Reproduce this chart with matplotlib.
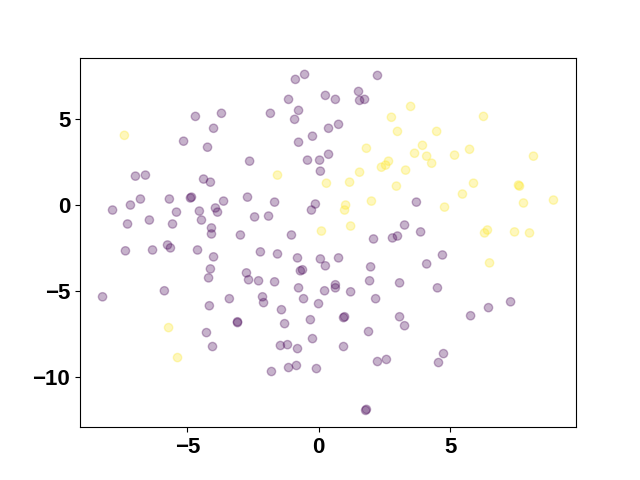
import numpy as np
import matplotlib
matplotlib.use("Agg")
import matplotlib.pyplot as plt

# class 0 (purple) embedding coordinates
x0 = [-8.22, -7.84, -7.35, -7.27, -7.16, -6.97, -6.78, -6.59, -6.44, -6.32,
      -5.87, -5.75, -5.64, -5.68, -5.56, -5.41, -5.14, -4.84, -4.88, -4.69,
      -4.61, -4.54, -4.46, -4.38, -4.23, -4.27, -4.19, -4.12, -4.12, -4.08,
      -4.08, -4.00, -4.04, -4.16, -4.00, -3.93, -3.85, -3.70, -3.62, -3.40,
      -3.09, -3.09, -2.98, -2.75, -2.67, -2.63, -2.71, -2.44, -2.22, -2.14,
      -2.10, -2.29, -1.68, -1.57, -1.91, -1.68, -1.84, -1.42, -1.30, -1.46,
      -1.19, -1.80, -1.15, -0.85, -0.81, -0.81, -0.77, -0.62, -0.70, -0.58,
      -0.32, -0.24, -0.09, -0.01, 0.06, 0.25, 0.22, 0.75, 0.63, 0.63,
      1.21, 0.98, 0.94, 0.94, 1.81, 1.78, 1.89, 1.93, 1.97, 2.16,
      2.23, 2.57, 3.07, 3.07, 3.26, 4.10, 4.70, 4.51, 5.77, 6.45,
      7.29, 4.74, 4.55, 2.08, 2.80, 2.99, 3.26, 3.71, 3.87, -1.04,
      -0.13, -0.28, -0.43, 0.03, 0.37, 0.06, -0.77, -0.24, 0.37, 0.75,
      -0.92, -0.77, -1.15, 0.25, 0.63, 1.51, 1.55, 1.74, -0.54, -0.89,
      2.23]
y0 = [-5.33, -0.29, -2.66, -1.10, 0.00, 1.68, 0.35, 1.74, -0.87, -2.61,
      -4.98, -2.32, -2.49, 0.35, -1.10, -0.41, 3.71, 0.46, 0.41, 5.15,
      -2.61, -0.35, -0.87, 1.51, 3.36, -7.41, -4.23, -3.71, 1.33, -1.33,
      -1.68, -3.01, -8.22, -5.85, 4.46, -0.17, -0.41, 5.33, 0.23, -5.44,
      -6.83, -6.78, -1.74, -3.94, -4.34, 2.55, 0.46, -0.69, -2.72, -5.33,
      -5.67, -4.40, -4.46, -2.84, -0.64, 0.17, 5.33, -6.08, -6.89, -8.16,
      -8.11, -9.67, -9.44, -9.32, -8.34, -3.07, -4.81, -3.76, -3.82, -5.44,
      -6.66, -7.76, -9.50, -5.73, -3.13, -3.53, -4.98, -3.07, -4.63, -4.81,
      -5.04, -6.49, -6.54, -8.22, -11.87, -11.93, -7.35, -4.40, -3.59, -5.44,
      -9.09, -8.97, -4.52, -6.49, -7.01, -3.42, -2.90, -4.81, -6.43, -5.96,
      -5.62, -8.63, -9.15, -1.97, -1.91, -1.80, -1.16, 0.17, -1.56, -1.74,
      0.06, -0.29, 2.61, 2.61, 2.95, 1.97, 3.65, 4.00, 4.46, 4.69,
      4.98, 5.50, 6.14, 6.37, 6.14, 6.60, 6.08, 6.14, 7.59, 7.30,
      7.53]

# class 1 (yellow) embedding coordinates
x1 = [-7.39, -5.71, -5.37, -1.57, 0.10, 0.29, 1.02, 0.98, 1.17, 1.21,
      1.55, 1.81, 2.00, 2.38, 2.54, 2.65, 2.76, 2.95, 2.99, 3.30,
      3.49, 3.64, 3.94, 4.10, 4.29, 4.48, 4.78, 5.16, 5.46, 5.73,
      5.88, 6.26, 6.30, 6.41, 6.49, 7.44, 7.63, 7.59, 7.78, 8.01,
      8.16, 8.92]
y1 = [4.05, -7.12, -8.86, 1.74, -1.51, 1.27, 0.00, -0.29, 1.33, -1.22,
      1.91, 3.30, 0.23, 2.20, 2.32, 2.55, 5.10, 1.10, 4.28, 2.03,
      5.73, 3.01, 3.47, 2.84, 2.43, 4.28, -0.12, 2.90, 0.64, 3.24,
      1.27, 5.15, -1.62, -1.45, -3.36, -1.56, 1.10, 1.16, 0.12, -1.62,
      2.84, 0.29]

xticks = [-5, 0, 5]
yticks = [-10, -5, 0, 5]

X = np.array(x0 + x1)
Y = np.array(y0 + y1)
labels = np.array([0]*len(x0) + [1]*len(x1))

plt.rcParams['font.family'] = ['Liberation Sans', 'DejaVu Sans']
fig = plt.figure(figsize=(6.4, 4.8), dpi=100)
plt.scatter(X, Y, c=labels, cmap="viridis", alpha=0.3)
plt.xticks(xticks, fontsize=16, fontweight="bold")
plt.yticks(yticks, fontsize=16, fontweight="bold")
plt.savefig("out.png")
